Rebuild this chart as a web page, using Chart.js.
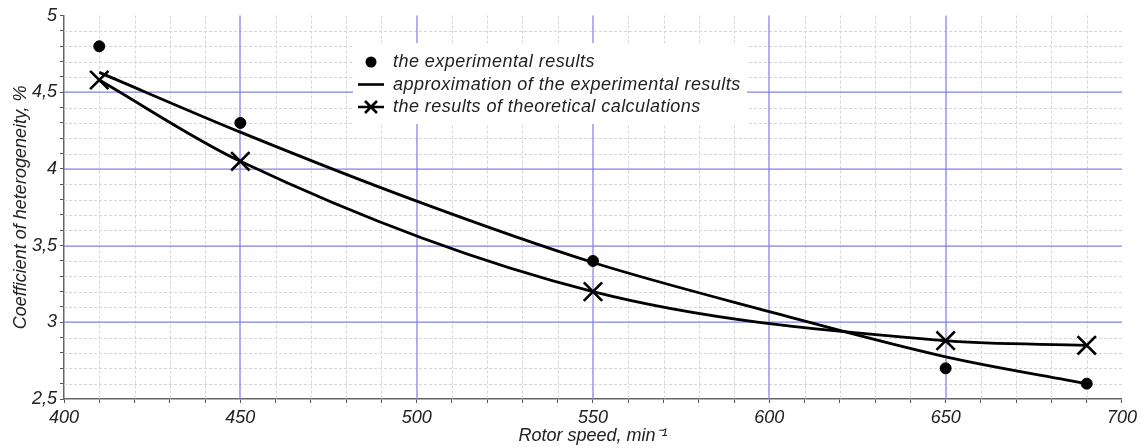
<!DOCTYPE html>
<html>
<head>
<meta charset="utf-8">
<script src="https://cdn.jsdelivr.net/npm/chart.js@4.4.1/dist/chart.umd.min.js"></script>
<style>
  html, body { margin: 0; padding: 0; background: #fff; }
  #wrap { width: 1141px; height: 448px; }
</style>
</head>
<body>
<div id="wrap"><canvas id="chart" width="1141" height="448"></canvas></div>
<script>
"use strict";

// rotor speed, min-1 / coefficient of heterogeneity, %
var expSpeed = [410, 450, 550, 650, 690];
var expCoef = [4.8, 4.3, 3.4, 2.7, 2.6];

var approxSpeed = [410, 450, 500, 550, 600, 650, 690];
var approxCoef = [4.63, 4.24, 3.79, 3.39, 3.07, 2.775, 2.6];

var theorSpeed = [410, 450, 550, 650, 690];
var theorCoef = [4.58, 4.05, 3.2, 2.88, 2.85];

var seriesLabels = [
    'the experimental results',
    'approximation of the experimental results',
    'the results of theoretical calculations'
];
var xTitle = 'Rotor speed, min\u207B\u00B9';
var yTitle = 'Coefficient of heterogeneity, %';

var FONT = "'Liberation Sans', Arial, sans-serif";
var TEXT = '#222';
var BLUE = '#8080e6';
var MINOR = '#d6d6d6';

function toPoints(xs, ys) {
    var out = [];
    for (var i = 0; i < xs.length; i++) out.push({ x: xs[i], y: ys[i] });
    return out;
}

function isMajor(v, step) {
    var r = v / step;
    return Math.abs(r - Math.round(r)) < 1e-6;
}

// grid (dashed minor, blue major) + legend box, under the data lines
var paperPlugin = {
    id: 'paper',
    beforeDatasetsDraw: function (chart) {
        var ctx = chart.ctx;
        var xs = chart.scales.x, ys = chart.scales.y;
        var area = chart.chartArea;

        function vline(v, off) {
            var px = Math.round(xs.getPixelForValue(v)) + off;
            ctx.beginPath();
            ctx.moveTo(px, area.top);
            ctx.lineTo(px, area.bottom);
            ctx.stroke();
        }
        function hline(v, off) {
            var py = Math.round(ys.getPixelForValue(v)) + off;
            ctx.beginPath();
            ctx.moveTo(area.left, py);
            ctx.lineTo(area.right, py);
            ctx.stroke();
        }

        ctx.save();
        ctx.lineWidth = 1;
        ctx.strokeStyle = MINOR;
        ctx.setLineDash([3, 2]);
        xs.ticks.forEach(function (t) { if (!isMajor(t.value, 50)) vline(t.value, 0.5); });
        ys.ticks.forEach(function (t) { if (!isMajor(t.value, 0.5)) hline(t.value, 0.5); });
        ctx.setLineDash([]);
        ctx.strokeStyle = BLUE;
        ctx.lineWidth = 1.25;
        xs.ticks.forEach(function (t) {
            if (isMajor(t.value, 50) && t.value > xs.min && t.value < xs.max) vline(t.value, 0);
        });
        ys.ticks.forEach(function (t) {
            if (isMajor(t.value, 0.5) && t.value > ys.min && t.value < ys.max) hline(t.value, 0);
        });

        // legend
        var box = { left: 353, top: 43, right: 747, bottom: 124 };
        ctx.fillStyle = '#fff';
        ctx.fillRect(box.left, box.top, box.right - box.left, box.bottom - box.top);

        var rows = [62, 84.5, 107];
        var mx = 371;
        ctx.fillStyle = '#000';
        ctx.strokeStyle = '#000';
        ctx.lineWidth = 2.6;

        ctx.beginPath();
        ctx.arc(mx, rows[0], 5.5, 0, Math.PI * 2);
        ctx.fill();

        ctx.beginPath();
        ctx.moveTo(358, rows[1]);
        ctx.lineTo(384, rows[1]);
        ctx.stroke();

        ctx.beginPath();
        ctx.moveTo(358, rows[2]);
        ctx.lineTo(384, rows[2]);
        ctx.moveTo(mx - 6, rows[2] - 6);
        ctx.lineTo(mx + 6, rows[2] + 6);
        ctx.moveTo(mx - 6, rows[2] + 6);
        ctx.lineTo(mx + 6, rows[2] - 6);
        ctx.stroke();

        ctx.fillStyle = TEXT;
        ctx.font = 'italic 18px ' + FONT;
        ctx.letterSpacing = '0.45px';
        ctx.textBaseline = 'middle';
        ctx.textAlign = 'left';
        for (var i = 0; i < seriesLabels.length; i++) {
            ctx.fillText(seriesLabels[i], 393, rows[i]);
        }
        ctx.restore();
    }
};

var ctx = document.getElementById('chart').getContext('2d');

var myChart = new Chart(ctx, {
    type: 'line',
    data: {
        datasets: [{
            label: seriesLabels[0],
            data: toPoints(expSpeed, expCoef),
            showLine: false,
            pointStyle: 'circle',
            pointRadius: 5.5,
            pointBorderWidth: 1,
            pointBackgroundColor: '#000',
            pointBorderColor: '#000',
            order: 1
        }, {
            label: seriesLabels[1],
            data: toPoints(approxSpeed, approxCoef),
            borderColor: '#000',
            borderWidth: 2.8,
            pointRadius: 0,
            cubicInterpolationMode: 'monotone',
            order: 2
        }, {
            label: seriesLabels[2],
            data: toPoints(theorSpeed, theorCoef),
            borderColor: '#000',
            borderWidth: 2.8,
            pointStyle: 'crossRot',
            pointRadius: 13,
            pointBorderWidth: 2.6,
            pointBorderColor: '#000',
            cubicInterpolationMode: 'monotone',
            order: 3
        }]
    },
    options: {
        responsive: false,
        animation: false,
        layout: { padding: { top: 15, right: 18, left: 0, bottom: 0 } },
        plugins: {
            legend: { display: false },
            tooltip: { enabled: false }
        },
        scales: {
            x: {
                type: 'linear',
                min: 400,
                max: 700,
                afterFit: function (scale) { scale.height = 49; },
                border: { display: true, color: '#666', width: 1.5 },
                grid: {
                    drawOnChartArea: false,
                    drawTicks: true,
                    tickLength: 4,
                    tickColor: '#555'
                },
                ticks: {
                    stepSize: 10,
                    autoSkip: false,
                    maxRotation: 0,
                    padding: 4,
                    color: TEXT,
                    font: { family: FONT, size: 18, style: 'italic' },
                    callback: function (v) { return isMajor(v, 50) ? String(v) : ''; }
                },
                title: {
                    display: true,
                    text: xTitle,
                    color: TEXT,
                    padding: { top: 0, bottom: 1 },
                    font: { family: FONT, size: 18, style: 'italic' }
                }
            },
            y: {
                min: 2.5,
                max: 5,
                afterFit: function (scale) { scale.width = 64; },
                border: { display: true, color: '#666', width: 1.5 },
                grid: {
                    drawOnChartArea: false,
                    drawTicks: true,
                    tickLength: 4,
                    tickColor: '#555'
                },
                ticks: {
                    stepSize: 0.1,
                    autoSkip: false,
                    padding: 3,
                    color: TEXT,
                    font: { family: FONT, size: 18, style: 'italic' },
                    callback: function (v) {
                        if (!isMajor(v, 0.5)) return '';
                        return String(Number(v.toFixed(1))).replace('.', ',');
                    }
                },
                title: {
                    display: true,
                    text: yTitle,
                    color: TEXT,
                    padding: { top: 10, bottom: 0 },
                    font: { family: FONT, size: 18, style: 'italic' }
                }
            }
        }
    },
    plugins: [paperPlugin]
});
</script>
</body>
</html>
